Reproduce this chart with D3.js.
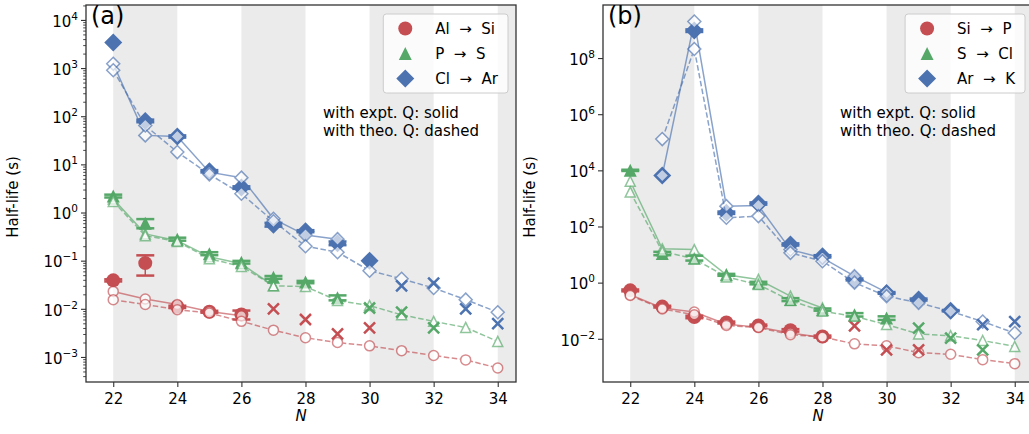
<!DOCTYPE html>
<html>
<head>
<meta charset="utf-8">
<script src="https://cdn.jsdelivr.net/npm/d3@7"></script>
<style>
  body { margin: 0; background: #fff; }
  text { font-family: "DejaVu Sans", sans-serif; fill: #000; }
</style>
</head>
<body>
<script>
// neutron number and axis ticks
const N = [22, 23, 24, 25, 26, 27, 28, 29, 30, 31, 32, 33, 34];
const xTicks = [22, 24, 26, 28, 30, 32, 34];
const shadeBands = [[22, 24], [26, 28], [30, 32], [34, 36]];
const aYTicks = [1e-3, 1e-2, 1e-1, 1e0, 1e1, 1e2, 1e3, 1e4];
const bYTicks = [1e-2, 1e0, 1e2, 1e4, 1e6, 1e8];
const aLegend = ['Al  \u2192  Si', 'P  \u2192  S', 'Cl  \u2192  Ar'];
const bLegend = ['Si  \u2192  P', 'S  \u2192  Cl', 'Ar  \u2192  K'];
const noteLines = ['with expt. Q: solid', 'with theo. Q: dashed'];

// panel (a): Al -> Si
const aAlSiExpt   = [0.039, 0.089, 0.011, 0.0087, 0.0076, null, null, null, null, null, null, null, null];
const aAlSiErr    = [0.002, 0.04, 0.0006, 0.0004, 0.0016, null, null, null, null, null, null, null, null];
const aAlSiCross  = [null, null, null, null, null, 0.010, 0.006, 0.003, 0.004, null, null, null, null];
const aAlSiSolid  = [0.023, 0.016, 0.0123, 0.0088, 0.0072, null, null, null, null, null, null, null, null];
const aAlSiDashed = [0.0154, 0.0123, 0.0096, 0.0082, 0.0055, 0.0036, 0.0025, 0.0020, 0.0017, 0.00135, 0.00107, 0.00087, 0.00059];
// panel (a): P -> S
const aPSExpt   = [2.2, 0.6, 0.28, 0.14, 0.093, 0.045, 0.036, 0.017, null, null, null, null, null];
const aPSErr    = [0.15, 0.13, 0.02, 0.01, 0.006, 0.003, 0.002, 0.002, null, null, null, null, null];
const aPSCross  = [null, null, null, null, null, null, null, null, 0.0104, 0.0085, 0.004, null, null];
const aPSSolid  = [1.9, 0.36, 0.26, 0.12, 0.086, 0.030, null, null, null, null, null, null, null];
const aPSDashed = [1.7, 0.33, 0.25, 0.11, 0.076, 0.030, 0.029, 0.0148, 0.0117, 0.0075, 0.0055, 0.0041, 0.0021];
// panel (a): Cl -> Ar
const aClArExpt   = [3400, 80, 38, 7.2, 3.3, 0.56, 0.41, 0.23, 0.10, null, null, null, null];
const aClArErr    = [null, 5, 2, 0.4, 0.2, 0.05, 0.02, 0.02, null, null, null, null, null];
const aClArCross  = [null, null, null, null, null, null, null, null, null, 0.030, 0.034, 0.010, 0.0049];
const aClArSolid  = [1230, 40, 38, 6.9, 5.3, 0.74, 0.34, 0.28, null, null, null, null, null];
const aClArDashed = [900, 64, 18, 6.2, 2.45, 0.66, 0.20, 0.15, 0.062, 0.042, 0.027, 0.0155, 0.0085];

// panel (b): Si -> P
const bSiPExpt   = [0.53, 0.14, 0.06, 0.038, 0.030, 0.020, 0.012, null, null, null, null, null, null];
const bSiPErr    = [0.04, 0.01, 0.006, 0.003, 0.002, 0.002, 0.001, null, null, null, null, null, null];
const bSiPCross  = [null, null, null, null, null, null, null, 0.029, 0.004, 0.004, null, null, null];
const bSiPSolid  = [0.37, 0.125, 0.09, 0.033, 0.026, 0.016, 0.011, null, null, null, null, null, null];
const bSiPDashed = [0.35, 0.115, 0.072, 0.030, 0.025, 0.014, 0.0115, 0.0066, 0.0056, 0.0032, 0.0028, 0.0018, 0.0013];
// panel (b): S -> Cl
const bSClExpt   = [1e4, 11, 7.6, 1.9, 0.97, 0.25, 0.11, 0.072, 0.055, null, null, null, null];
const bSClErr    = [500, 1.5, 1.5, 0.15, 0.1, 0.03, 0.01, 0.01, 0.008, null, null, null, null];
const bSClCross  = [null, null, null, null, null, null, null, null, null, 0.024, 0.0105, 0.004, null];
const bSClSolid  = [4100, 16, 15, 1.9, 1.3, 0.33, 0.125, null, null, null, null, null, null];
const bSClDashed = [1700, 13, 7, 1.6, 0.85, 0.23, 0.095, 0.063, 0.032, 0.0148, 0.0128, 0.0087, 0.0053];
// panel (b): Ar -> K
const bArKExpt   = [null, 6600, 9.5e8, 310, 660, 23, 8.7, 1.3, 0.43, 0.25, 0.10, null, null];
const bArKErr    = [null, null, 1e8, 30, 60, 2, 0.8, 0.1, 0.03, 0.02, 0.005, null, null];
const bArKCross  = [null, null, null, null, null, null, null, null, null, null, null, 0.032, 0.041];
const bArKSolid  = [null, 6600, 2e9, 530, 560, 15, 7.6, 1.7, 0.45, null, null, null, null];
const bArKDashed = [null, 1.3e5, 2.1e8, 204, 234, 11.5, 5.8, 1.0, 0.33, 0.19, 0.095, 0.041, 0.016];

const W = 1029, H = 434;
const plotTop = 5, plotBottom = 382, plotW = 430;
const colors = ['#c44e52', '#55a868', '#4c72b0'];
const shapes = ['circle', 'triangle', 'diamond'];
const bigR = {circle: 7, triangle: 6.5, diamond: 9};
const smallR = {circle: 5, triangle: 5, diamond: 6.5};

const svg = d3.select('body').append('svg')
    .attr('width', W)
    .attr('height', H);

function markerPath(shape, r) {
    if (shape === 'circle') {
        const p = d3.path();
        p.arc(0, 0, r, 0, 2 * Math.PI);
        p.closePath();
        return p.toString();
    }
    if (shape === 'triangle') return `M0,${-r}L${r},${r}L${-r},${r}Z`;
    return `M0,${-r}L${r},0L0,${r}L${-r},0Z`;
}

const panels = [
    {
        left: 86, yDomain: [Math.pow(10, -3.52), Math.pow(10, 4.31)], yTicks: aYTicks, minor: true,
        tag: '(a)', legend: aLegend,
        groups: [
            {expt: aAlSiExpt, err: aAlSiErr, cross: aAlSiCross, solid: aAlSiSolid, dashed: aAlSiDashed},
            {expt: aPSExpt, err: aPSErr, cross: aPSCross, solid: aPSSolid, dashed: aPSDashed},
            {expt: aClArExpt, err: aClArErr, cross: aClArCross, solid: aClArSolid, dashed: aClArDashed}
        ]
    },
    {
        left: 603, yDomain: [Math.pow(10, -3.54), Math.pow(10, 9.89)], yTicks: bYTicks, minor: false,
        tag: '(b)', legend: bLegend,
        groups: [
            {expt: bSiPExpt, err: bSiPErr, cross: bSiPCross, solid: bSiPSolid, dashed: bSiPDashed},
            {expt: bSClExpt, err: bSClErr, cross: bSClCross, solid: bSClSolid, dashed: bSClDashed},
            {expt: bArKExpt, err: bArKErr, cross: bArKCross, solid: bArKSolid, dashed: bArKDashed}
        ]
    }
];

panels.forEach((p, pi) => {
    const x = d3.scaleLinear().domain([21.15, 34.57]).range([p.left, p.left + plotW]);
    const y = d3.scaleLog().domain(p.yDomain).range([plotBottom, plotTop]);

    const clipId = 'clip' + pi;
    svg.append('clipPath').attr('id', clipId)
        .append('rect')
        .attr('x', p.left).attr('y', plotTop)
        .attr('width', plotW).attr('height', plotBottom - plotTop);

    const plot = svg.append('g').attr('clip-path', `url(#${clipId})`);

    plot.selectAll('rect.band')
        .data(shadeBands)
        .enter().append('rect')
        .attr('class', 'band')
        .attr('x', d => x(d[0]))
        .attr('y', plotTop)
        .attr('width', d => x(d[1]) - x(d[0]))
        .attr('height', plotBottom - plotTop)
        .attr('fill', '#ebebeb');

    p.groups.forEach((grp, k) => {
        const col = colors[k];
        const shape = shapes[k];
        const pts = arr => N.map((n, i) => ({n: n, v: arr[i], e: grp.err[i]})).filter(d => d.v != null);

        // experimental half-lives with error bars
        const ex = plot.append('g');
        pts(grp.expt).forEach(d => {
            if (d.e != null) {
                const y0 = y(Math.max(d.v - d.e, 1e-12)), y1 = y(d.v + d.e);
                ex.append('line')
                    .attr('x1', x(d.n)).attr('x2', x(d.n))
                    .attr('y1', y0).attr('y2', y1)
                    .attr('stroke', col).attr('stroke-width', 1.5);
                [y0, y1].forEach(yy => {
                    ex.append('line')
                        .attr('x1', x(d.n) - 9).attr('x2', x(d.n) + 9)
                        .attr('y1', yy).attr('y2', yy)
                        .attr('stroke', col).attr('stroke-width', 2.5);
                });
            }
            ex.append('path')
                .attr('d', markerPath(shape, bigR[shape]))
                .attr('transform', `translate(${x(d.n)},${y(d.v)})`)
                .attr('fill', col);
        });

        // theory lines: solid (expt. Q) and dashed (theo. Q)
        [['solid', null], ['dashed', '5.5,2.5']].forEach(([key, dash]) => {
            const data = pts(grp[key]);
            const lg = plot.append('g').attr('opacity', 0.65);
            lg.append('path')
                .datum(data)
                .attr('d', d3.line().x(d => x(d.n)).y(d => y(d.v)))
                .attr('fill', 'none')
                .attr('stroke', col)
                .attr('stroke-width', 1.5)
                .attr('stroke-dasharray', dash);
            lg.selectAll('path.m')
                .data(data)
                .enter().append('path')
                .attr('class', 'm')
                .attr('d', markerPath(shape, smallR[shape]))
                .attr('transform', d => `translate(${x(d.n)},${y(d.v)})`)
                .attr('fill', '#fff')
                .attr('stroke', col)
                .attr('stroke-width', 1.5);
        });

        // cross markers
        const s = 5.5;
        plot.selectAll(null)
            .data(pts(grp.cross))
            .enter().append('path')
            .attr('d', `M${-s},${-s}L${s},${s}M${-s},${s}L${s},${-s}`)
            .attr('transform', d => `translate(${x(d.n)},${y(d.v)})`)
            .attr('fill', 'none')
            .attr('stroke', col)
            .attr('stroke-width', 2.5);
    });

    // axes
    const yAxis = svg.append('g')
        .attr('transform', `translate(${p.left},0)`)
        .call(d3.axisLeft(y).tickValues(p.yTicks).tickSize(5).tickPadding(3).tickFormat(() => ''));
    yAxis.select('.domain').remove();
    yAxis.selectAll('.tick line').attr('stroke', '#333').attr('stroke-width', 1.1);
    yAxis.selectAll('.tick text')
        .attr('font-size', 15)
        .attr('font-family', '"DejaVu Sans", sans-serif')
        .attr('dy', '0.42em')
        .each(function (d) {
            const e = Math.round(Math.log10(d));
            const t = d3.select(this);
            t.append('tspan').text('10');
            t.append('tspan').attr('dy', -7).attr('font-size', 10.5)
                .text(e < 0 ? '\u2212' + (-e) : String(e));
        });

    if (p.minor) {
        const minorTicks = [];
        for (let k = -4; k <= 4; k++) {
            for (let m = 2; m <= 9; m++) {
                const v = m * Math.pow(10, k);
                if (v > p.yDomain[0] && v < p.yDomain[1]) minorTicks.push(v);
            }
        }
        const ym = svg.append('g')
            .attr('transform', `translate(${p.left},0)`)
            .call(d3.axisLeft(y).tickValues(minorTicks).tickSize(2.8).tickFormat(() => ''));
        ym.select('.domain').remove();
        ym.selectAll('.tick line').attr('stroke', '#333').attr('stroke-width', 0.9);
    }

    const xAxis = svg.append('g')
        .attr('transform', `translate(0,${plotBottom})`)
        .call(d3.axisBottom(x).tickValues(xTicks).tickSize(5).tickPadding(6));
    xAxis.select('.domain').remove();
    xAxis.selectAll('.tick line').attr('stroke', '#333').attr('stroke-width', 1.1);
    xAxis.selectAll('.tick text')
        .attr('font-size', 15)
        .attr('font-family', '"DejaVu Sans", sans-serif');

    // frame
    svg.append('rect')
        .attr('x', p.left).attr('y', plotTop)
        .attr('width', plotW).attr('height', plotBottom - plotTop)
        .attr('fill', 'none')
        .attr('stroke', '#333')
        .attr('stroke-width', 1.3);

    // axis titles
    svg.append('text')
        .attr('transform', `translate(${p.left - 68},197) rotate(-90)`)
        .attr('text-anchor', 'middle')
        .attr('font-size', 15)
        .text('Half-life (s)');
    svg.append('text')
        .attr('x', p.left + plotW / 2)
        .attr('y', 421)
        .attr('text-anchor', 'middle')
        .attr('font-size', 15)
        .attr('font-style', 'italic')
        .text('N');

    // panel tag
    svg.append('text')
        .attr('x', p.left + 5)
        .attr('y', 24)
        .attr('font-size', 24)
        .text(p.tag);

    // note
    noteLines.forEach((line, i) => {
        svg.append('text')
            .attr('x', p.left + 237)
            .attr('y', 118 + i * 18)
            .attr('font-size', 15)
            .text(line);
    });

    // legend
    const lg = svg.append('g');
    const box = lg.append('rect');
    const texts = p.legend.map((lab, i) => lg.append('text')
        .attr('y', 28.5 + i * 25)
        .attr('dy', '0.36em')
        .attr('font-size', 15)
        .style('white-space', 'pre')
        .text(lab));
    const tw = d3.max(texts, t => t.node().getComputedTextLength());
    const bw = 52 + tw + 10;
    const bx = p.left + plotW - 8 - bw;
    box.attr('x', bx).attr('y', 14)
        .attr('width', bw).attr('height', 79)
        .attr('rx', 3)
        .attr('fill', '#fff').attr('fill-opacity', 0.8)
        .attr('stroke', '#cccccc').attr('stroke-width', 1);
    texts.forEach(t => t.attr('x', bx + 52));
    shapes.forEach((shape, i) => {
        lg.append('path')
            .attr('d', markerPath(shape, bigR[shape]))
            .attr('transform', `translate(${bx + 22},${28.5 + i * 25})`)
            .attr('fill', colors[i]);
    });
});
</script>
</body>
</html>
